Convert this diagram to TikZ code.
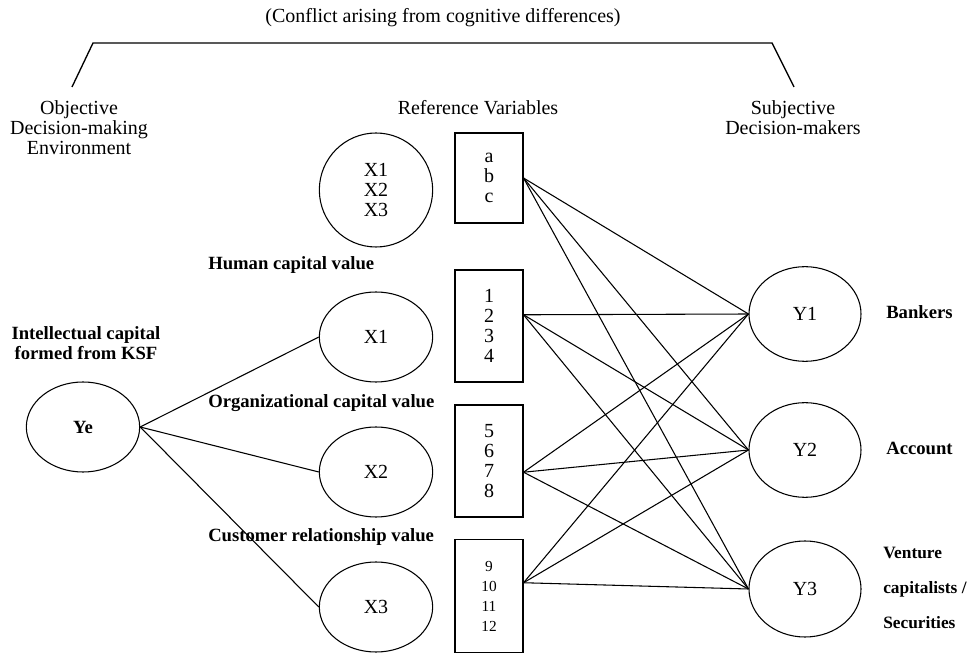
\documentclass[tikz,border=0pt]{standalone}
\usepackage{fontspec}
\setmainfont{Liberation Serif}
\usepackage{tikz}
\usetikzlibrary{shapes.geometric}

\begin{document}
\begin{tikzpicture}[x=0.75pt,y=0.75pt,yscale=-1,xscale=1,
  every node/.style={font=\fontsize{15}{15}\selectfont, inner sep=0.75pt},
  oval/.style={draw, ellipse, line width=0.8pt, minimum width=85pt, minimum height=67.5pt, align=center},
  varbox/.style={draw, rectangle, line width=0.8pt, minimum width=51pt, minimum height=84pt, align=center},
  boldlbl/.style={font=\fontsize{14}{15}\selectfont\bfseries},
  link/.style={line width=0.8pt}
]
\useasboundingbox (0,0) rectangle (971,655);

%Bracket on top
\coordinate (brl) at (72,87);
\coordinate (brr) at (794,87);
\draw [line width=1pt] (brl) -- (93,43) -- (772,43) -- (brr);

% Text Node
\node (conflict) at (443,18) {(Conflict arising from cognitive differences)};
% Text Node
\node [align=center] (objective) at (79,128) {Objective\\Decision-making\\Environment};
% Text Node
\node (refvars) at (478,108) {Reference Variables};
% Text Node
\node [align=center] (subjective) at (793,118) {Subjective\\Decision-makers};

%Ellipses
\node [oval, boldlbl] (ye) at (83,427) {Ye};
\node [oval, minimum height=85.5pt] (xall) at (376,190) {X1\\X2\\X3};
\node [oval] (x1) at (376,337) {X1};
\node [oval] (x2) at (376,472) {X2};
\node [oval] (x3) at (376,607) {X3};
\node [oval, minimum width=84pt, minimum height=71pt] (y1) at (805,314) {Y1};
\node [oval, minimum width=84pt, minimum height=71pt] (y2) at (805,450) {Y2};
\node [oval, minimum width=84pt, minimum height=72pt] (y3) at (805,589) {Y3};

%Reference variable boxes
\node [varbox, minimum height=67.5pt] (b1) at (489,178) {a\\b\\c};
\node [varbox] (b2) at (489,326) {1\\2\\3\\4};
\node [varbox] (b3) at (489,461) {5\\6\\7\\8};
\node [varbox, minimum height=85pt, font=\fontsize{11.5}{15}\selectfont] (b4) at (489,596) {9\\10\\11\\12};

% Text Node
\node [boldlbl, align=center] (iclbl) at (86,343) {Intellectual capital\\formed from KSF};
% Text Node
\node [boldlbl, anchor=west] (humlbl) at (207,265) {Human capital value};
% Text Node
\node [boldlbl, anchor=west] (orglbl) at (207,403) {Organizational capital value};
% Text Node
\node [boldlbl, anchor=west] (cuslbl) at (207,537) {Customer relationship value};
% Text Node
\node [boldlbl, anchor=west] (banklbl) at (885,312) {Bankers};
% Text Node
\node [boldlbl, anchor=west] (acclbl) at (885,448) {Account};
% Text Node
\node [anchor=west, align=left, font=\fontsize{13}{26.5}\selectfont\bfseries] (vclbl) at (882,588) {Venture\\capitalists /\\Securities};

%Straight Lines from Ye
\draw [link] (ye.east) -- (x1.west);
\draw [link] (ye.east) -- (x2.west);
\draw [link] (ye.east) -- (x3.west);

%Straight Lines to decision-makers
\draw [link] (b1.east) -- (y1.west);
\draw [link] (b1.east) -- (y2.west);
\draw [link] (b1.east) -- (y3.west);
\draw [link] (b2.18) -- (y1.west);
\draw [link] (b2.18) -- (y2.west);
\draw [link] (b2.18) -- (y3.west);
\draw [link] (b3.-18) -- (y1.west);
\draw [link] (b3.-18) -- (y2.west);
\draw [link] (b3.-18) -- (y3.west);
\draw [link] (b4.21) -- (y1.west);
\draw [link] (b4.21) -- (y2.west);
\draw [link] (b4.21) -- (y3.west);

\end{tikzpicture}
\end{document}
